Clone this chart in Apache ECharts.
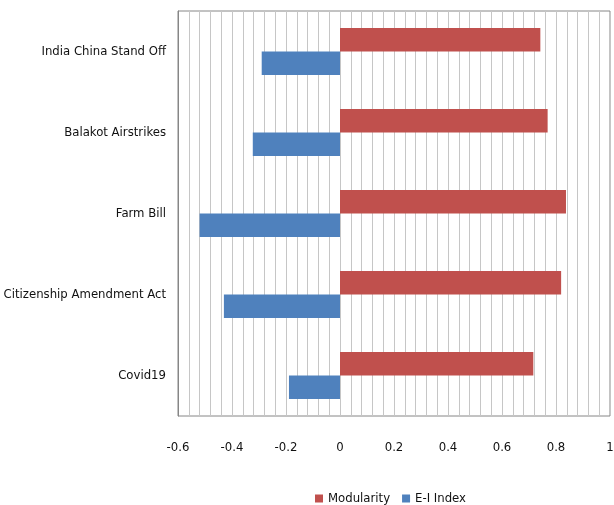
<!DOCTYPE html>
<html>
<head>
<meta charset="utf-8">
<script src="https://cdn.jsdelivr.net/npm/echarts@6/dist/echarts.min.js"></script>
<style>
html, body { margin: 0; padding: 0; background: #fff; }
#chart { width: 614px; height: 505px; }
</style>
</head>
<body>
<div id="chart"></div>
<script>
var categories = ['Covid19', 'Citizenship Amendment Act', 'Farm Bill', 'Balakot Airstrikes', 'India China Stand Off'];
var modularity = [0.716, 0.819, 0.837, 0.769, 0.742];
var eiIndex = [-0.189, -0.430, -0.520, -0.323, -0.290];

var font = "'Liberation Sans Narrow', 'DejaVu Sans Condensed', sans-serif";

var chart = echarts.init(document.getElementById('chart'));
var option = {
	animation: false,
	grid: {
		left: 178,
		right: 4,
		top: 11,
		bottom: 89,
		show: true,
		borderColor: '#868686',
		borderWidth: 1,
		containLabel: false,
		outerBoundsMode: 'none'
	},
	legend: {
		data: ['Modularity', 'E-I Index'],
		left: 310,
		top: 487,
		itemWidth: 8,
		itemHeight: 8,
		itemGap: 12,
		icon: 'rect',
		textStyle: { fontFamily: font, fontSize: 13, color: '#111' }
	},
	xAxis: {
		type: 'value',
		min: -0.6,
		max: 1,
		interval: 0.2,
		axisLine: { show: false },
		axisTick: { show: false },
		axisLabel: {
			margin: 25,
			fontFamily: font,
			fontSize: 13,
			color: '#111',
			formatter: function (v) { return String(Math.round(v * 10) / 10); }
		},
		splitLine: { show: true, lineStyle: { color: '#c6c6c6', width: 1 } },
		minorTick: { show: false, splitNumber: 5 },
		minorSplitLine: { show: true, lineStyle: { color: '#c6c6c6', width: 1 } }
	},
	yAxis: {
		type: 'category',
		data: categories,
		axisLine: { show: true, onZero: false, lineStyle: { color: '#868686' } },
		axisTick: { show: false },
		axisLabel: {
			margin: 12,
			fontFamily: font,
			fontSize: 13,
			color: '#111'
		},
		splitLine: { show: false }
	},
	series: [
		{
			name: 'Modularity',
			type: 'bar',
			data: modularity,
			barGap: '0%',
			barCategoryGap: '42%',
			itemStyle: { color: '#C0504D' }
		},
		{
			name: 'E-I Index',
			type: 'bar',
			data: eiIndex,
			barGap: '0%',
			barCategoryGap: '42%',
			itemStyle: { color: '#4F81BD' }
		}
	]
};
chart.setOption(option);
</script>
</body>
</html>
